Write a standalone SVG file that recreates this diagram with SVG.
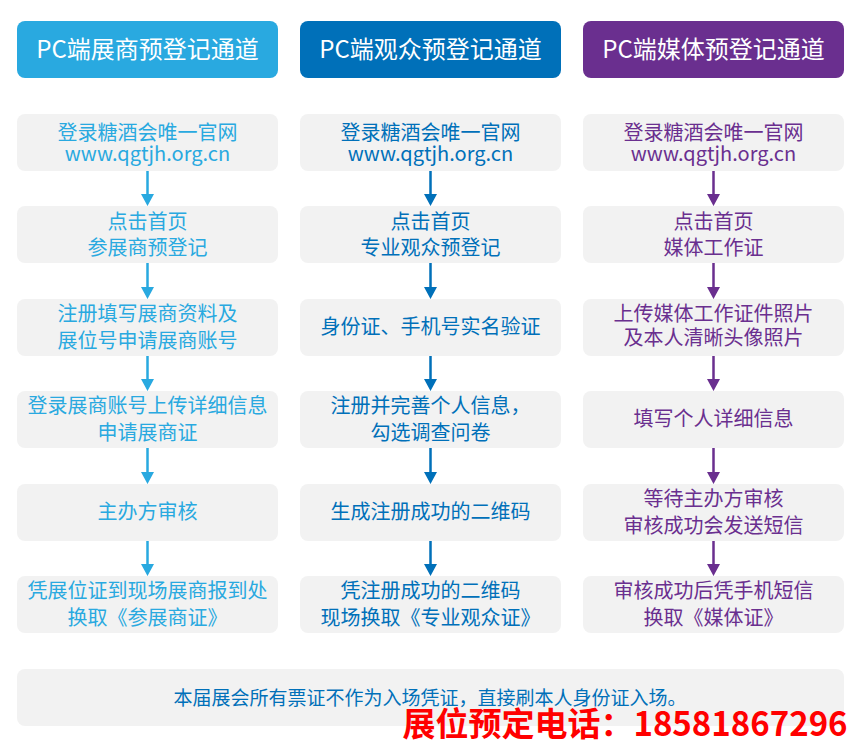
<svg xmlns="http://www.w3.org/2000/svg" width="861" height="744" viewBox="0 0 861 744">
<style>
text{font-family:"Noto Sans CJK SC","Noto Sans",sans-serif;text-anchor:middle}
.h{fill:#fff;font-size:24px}
.b{fill:#f2f2f2}
.t{font-size:20px}
.u{font-size:20px}
.c1{fill:#29a9e0}.c2{fill:#0070b9}.c3{fill:#6a2f8f}
.l1{stroke:#29a9e0;stroke-width:2.5}.l2{stroke:#0070b9;stroke-width:2.5}.l3{stroke:#6a2f8f;stroke-width:2.5}
</style>
<rect width="861" height="744" fill="#fff"/>
<g id="col1">
<rect x="17" y="21" width="261" height="57" rx="8" class="c1"/><text x="147.5" y="58" class="h">PC端展商预登记通道</text>
<rect x="17" y="114" width="261" height="57" rx="8" class="b"/><text class="t c1" x="147.5" y="140">登录糖酒会唯一官网</text><text class="u c1" x="147.5" y="161">www.qgtjh.org.cn</text>
<rect x="17" y="206" width="261" height="57" rx="8" class="b"/><text class="t c1" x="147.5" y="229">点击首页</text><text class="t c1" x="147.5" y="255">参展商预登记</text>
<rect x="17" y="299" width="261" height="57" rx="8" class="b"/><text class="t c1" x="147.5" y="321">注册填写展商资料及</text><text class="t c1" x="147.5" y="348">展位号申请展商账号</text>
<rect x="17" y="391" width="261" height="57" rx="8" class="b"/><text class="t c1" x="147.5" y="413">登录展商账号上传详细信息</text><text class="t c1" x="147.5" y="440">申请展商证</text>
<rect x="17" y="484" width="261" height="57" rx="8" class="b"/><text class="t c1" x="147.5" y="519">主办方审核</text>
<rect x="17" y="576" width="261" height="57" rx="8" class="b"/><text class="t c1" x="147.5" y="598">凭展位证到现场展商报到处</text><text class="t c1" x="147.5" y="625">换取《参展商证》</text>
</g>
<g id="col2">
<rect x="300" y="21" width="261" height="57" rx="8" class="c2"/><text x="430.5" y="58" class="h">PC端观众预登记通道</text>
<rect x="300" y="114" width="261" height="57" rx="8" class="b"/><text class="t c2" x="430.5" y="140">登录糖酒会唯一官网</text><text class="u c2" x="430.5" y="161">www.qgtjh.org.cn</text>
<rect x="300" y="206" width="261" height="57" rx="8" class="b"/><text class="t c2" x="430.5" y="229">点击首页</text><text class="t c2" x="430.5" y="255">专业观众预登记</text>
<rect x="300" y="299" width="261" height="57" rx="8" class="b"/><text class="t c2" x="430.5" y="334">身份证、手机号实名验证</text>
<rect x="300" y="391" width="261" height="57" rx="8" class="b"/><text class="t c2" x="430.5" y="413">注册并完善个人信息，</text><text class="t c2" x="430.5" y="440">勾选调查问卷</text>
<rect x="300" y="484" width="261" height="57" rx="8" class="b"/><text class="t c2" x="430.5" y="519">生成注册成功的二维码</text>
<rect x="300" y="576" width="261" height="57" rx="8" class="b"/><text class="t c2" x="430.5" y="598">凭注册成功的二维码</text><text class="t c2" x="430.5" y="625">现场换取《专业观众证》</text>
</g>
<g id="col3">
<rect x="583" y="21" width="261" height="57" rx="8" class="c3"/><text x="713.5" y="58" class="h">PC端媒体预登记通道</text>
<rect x="583" y="114" width="261" height="57" rx="8" class="b"/><text class="t c3" x="713.5" y="140">登录糖酒会唯一官网</text><text class="u c3" x="713.5" y="161">www.qgtjh.org.cn</text>
<rect x="583" y="206" width="261" height="57" rx="8" class="b"/><text class="t c3" x="713.5" y="229">点击首页</text><text class="t c3" x="713.5" y="255">媒体工作证</text>
<rect x="583" y="299" width="261" height="57" rx="8" class="b"/><text class="t c3" x="713.5" y="321">上传媒体工作证件照片</text><text class="t c3" x="713.5" y="345">及本人清晰头像照片</text>
<rect x="583" y="391" width="261" height="57" rx="8" class="b"/><text class="t c3" x="713.5" y="426">填写个人详细信息</text>
<rect x="583" y="484" width="261" height="57" rx="8" class="b"/><text class="t c3" x="713.5" y="506">等待主办方审核</text><text class="t c3" x="713.5" y="533">审核成功会发送短信</text>
<rect x="583" y="576" width="261" height="57" rx="8" class="b"/><text class="t c3" x="713.5" y="598">审核成功后凭手机短信</text><text class="t c3" x="713.5" y="625">换取《媒体证》</text>
</g>
<g id="connectors">
<g class="l1"><path d="M147.5 171V196M147.5 263V289M147.5 356V381M147.5 448V474M147.5 541V566"/></g>
<g class="c1"><path d="M141 194h13l-6.5 12zM141 287h13l-6.5 12zM141 379h13l-6.5 12zM141 472h13l-6.5 12zM141 564h13l-6.5 12z"/></g>
<g class="l2"><path d="M430.5 171V196M430.5 263V289M430.5 356V381M430.5 448V474M430.5 541V566"/></g>
<g class="c2"><path d="M424 194h13l-6.5 12zM424 287h13l-6.5 12zM424 379h13l-6.5 12zM424 472h13l-6.5 12zM424 564h13l-6.5 12z"/></g>
<g class="l3"><path d="M713.5 171V196M713.5 263V289M713.5 356V381M713.5 448V474M713.5 541V566"/></g>
<g class="c3"><path d="M707 194h13l-6.5 12zM707 287h13l-6.5 12zM707 379h13l-6.5 12zM707 472h13l-6.5 12zM707 564h13l-6.5 12z"/></g>
</g>
<g id="note">
<rect x="17" y="669" width="827" height="57" rx="8" class="b"/>
<text class="c2" x="430" y="705" font-size="19">本届展会所有票证不作为入场凭证，直接刷本人身份证入场。</text>
<text x="625" y="736" font-size="33" font-weight="bold" fill="#f00">展位预定电话：18581867296</text>
</g>
</svg>
